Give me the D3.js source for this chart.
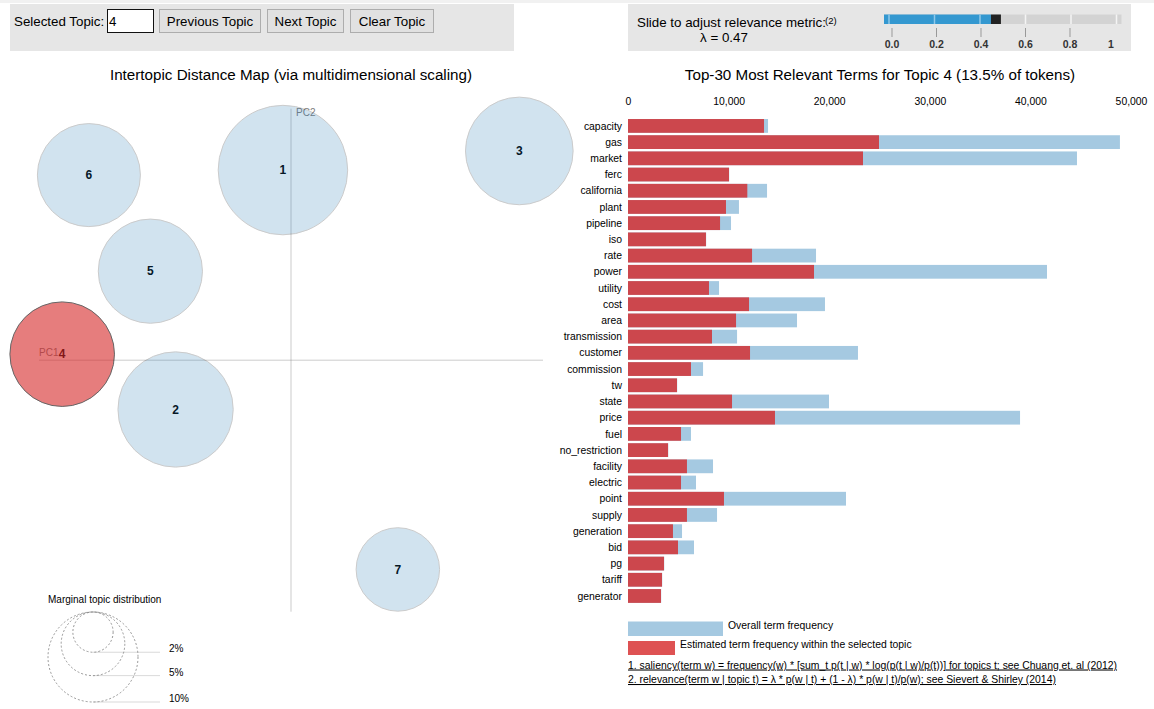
<!DOCTYPE html>
<html><head><meta charset="utf-8">
<script src="https://cdn.jsdelivr.net/npm/d3@7"></script>
<style>
body{margin:0;background:#fff;}
svg{font-family:"Liberation Sans",Arial,sans-serif;display:block}
</style></head><body>
<svg id="c" width="1154" height="709"></svg>
<script>
// ---- data ----
const topicIds = [1, 2, 3, 4, 5, 6, 7];
const topicPC1 = [-0.016, -0.229, 0.453, -0.454, -0.279, -0.401, 0.212];
const topicPC2 = [0.378, -0.098, 0.416, 0.012, 0.177, 0.368, -0.416];
const topicPct = [20.7, 16.4, 14.3, 13.5, 13.4, 13.1, 8.6];
const selectedTopic = 4;
const lambdaValue = 0.47;
const terms = ["capacity","gas","market","ferc","california","plant","pipeline","iso","rate","power","utility","cost","area","transmission","customer","commission","tw","state","price","fuel","no_restriction","facility","electric","point","supply","generation","bid","pg","tariff","generator"];
const topicFreq = [13520,24950,23360,10040,11860,9740,9150,7750,12330,18490,8050,12030,10740,8350,12130,6260,4870,10340,14610,5270,3980,5860,5270,9540,5860,4470,4970,3580,3380,3280];
const totalFreq = [13920,48900,44630,10060,13820,11030,10240,7770,18690,41650,9050,19580,16800,10840,22860,7460,4890,19980,38970,6260,4000,8450,6760,21670,8850,5370,6560,3600,3400,3300];
const xTickValues = [0, 10000, 20000, 30000, 40000, 50000];
const lambdaTicks = [0, 0.2, 0.4, 0.6, 0.8, 1];
const legendPcts = [2, 5, 10];

const svg = d3.select("#c");
const FONT13 = "13.33px";

// ---- header ----
svg.append("rect").attr("x",0).attr("y",0).attr("width",1154).attr("height",3).attr("fill","#f1f1f1");
svg.append("rect").attr("x",10).attr("y",4).attr("width",504).attr("height",47).attr("fill","#e6e6e6");
svg.append("rect").attr("x",628).attr("y",4).attr("width",503).attr("height",47).attr("fill","#e6e6e6");

svg.append("text").attr("x",14).attr("y",26).attr("font-size",FONT13).attr("fill","#000").text("Selected Topic:");
svg.append("rect").attr("x",107.5).attr("y",9.5).attr("width",46).attr("height",23).attr("fill","#fff").attr("stroke","#111");
svg.append("text").attr("x",109).attr("y",26).attr("font-size",FONT13).text(String(selectedTopic));
const buttons = [["Previous Topic",159,261],["Next Topic",267,344],["Clear Topic",350,434]];
buttons.forEach(b=>{
  svg.append("rect").attr("x",b[1]+0.5).attr("y",9.5).attr("width",b[2]-b[1]-1).attr("height",23)
    .attr("fill","#e1e1e1").attr("stroke","#adadad");
  svg.append("text").attr("x",(b[1]+b[2])/2).attr("y",26).attr("text-anchor","middle")
    .attr("font-size",FONT13).attr("fill","#000").text(b[0]);
});

svg.append("text").attr("x",637).attr("y",27).attr("font-size",FONT13).text("Slide to adjust relevance metric:");
svg.append("text").attr("x",825).attr("y",24).attr("font-size","9.5px").text("(2)");
svg.append("text").attr("x",724).attr("y",42).attr("text-anchor","middle").attr("font-size",FONT13).text("\u03bb = " + lambdaValue);

const sx = d3.scaleLinear().domain([0,1]).range([889,1116.5]);
svg.append("rect").attr("x",884).attr("y",14.5).attr("width",237.5).attr("height",9.5).attr("fill","#d3d3d3");
svg.append("rect").attr("x",884).attr("y",14.5).attr("width",sx(lambdaValue)-5-884).attr("height",9.5).attr("fill","#3498d0");
svg.selectAll(".sltick").data(lambdaTicks).enter().append("line")
  .attr("x1",d=>sx(d)).attr("x2",d=>sx(d)).attr("y1",14.5).attr("y2",24)
  .attr("stroke",d=>d<lambdaValue?"#8fc8ea":"#f4f4f4").attr("stroke-width",1.5);
svg.append("rect").attr("x",sx(lambdaValue)-5).attr("y",14.5).attr("width",10).attr("height",9.5).attr("fill","#222");
const ax = d3.scaleLinear().domain([0,1]).range([892,1114.5]);
svg.selectAll(".latick").data(lambdaTicks.filter(d=>d<1)).enter().append("line")
  .attr("x1",d=>ax(d)).attr("x2",d=>ax(d)).attr("y1",28).attr("y2",37).attr("stroke","#999");
svg.selectAll(".lalab").data(lambdaTicks).enter().append("text")
  .attr("x",d=>d===1?ax(d)-3.5:ax(d)).attr("y",48).attr("text-anchor","middle").attr("font-size","10.5px")
  .attr("font-weight","bold").attr("fill","#333").text(d=>d===1?"1":d3.format(".1f")(d));

// ---- titles ----
svg.append("text").attr("x",291).attr("y",80).attr("text-anchor","middle").attr("font-size","15.2px")
  .text("Intertopic Distance Map (via multidimensional scaling)");
svg.append("text").attr("x",880).attr("y",80).attr("text-anchor","middle").attr("font-size","15.2px")
  .text("Top-30 Most Relevant Terms for Topic " + selectedTopic + " (" + topicPct[selectedTopic-1] + "% of tokens)");

// ---- MDS plot ----
const mx = d3.scaleLinear().domain([-0.5,0.5]).range([39,543]);
const my = d3.scaleLinear().domain([-0.5,0.5]).range([611.7,108.7]);
const rr = d3.scaleSqrt().domain([0,10]).range([0,45]);
const mds = svg.append("g");
mds.append("line").attr("x1",mx(-0.5)).attr("x2",mx(0.5)).attr("y1",my(0)).attr("y2",my(0)).attr("stroke","gray").attr("stroke-opacity",0.4);
mds.append("text").attr("x",mx(-0.5)).attr("y",my(0)-4).attr("font-size","10px").attr("fill","gray").text("PC1");
mds.append("line").attr("x1",mx(0)).attr("x2",mx(0)).attr("y1",my(0.5)).attr("y2",my(-0.5)).attr("stroke","gray").attr("stroke-opacity",0.4);
mds.append("text").attr("x",mx(0)+5).attr("y",my(0.5)+7).attr("font-size","10px").attr("fill","gray").text("PC2");

const topics = topicIds.map((id,i)=>({id, x:topicPC1[i], y:topicPC2[i], pct:topicPct[i]}));
mds.selectAll(".tl").data(topics).enter().append("text")
  .attr("x",d=>mx(d.x)).attr("y",d=>my(d.y)).attr("dy","0.36em").attr("text-anchor","middle")
  .attr("font-size","12px").attr("font-weight","bold").attr("fill","#000").text(d=>d.id);
mds.selectAll(".dot").data(topics).enter().append("circle")
  .attr("cx",d=>mx(d.x)).attr("cy",d=>my(d.y)).attr("r",d=>rr(d.pct))
  .attr("fill",d=>d.id===selectedTopic?"#d62728":"#1f77b4")
  .attr("stroke","black")
  .attr("opacity",d=>d.id===selectedTopic?0.6:0.2);

// marginal legend
svg.append("text").attr("x",48).attr("y",603).attr("font-size","10px").text("Marginal topic distribution");
const lcx = 93, ltop = 612;
legendPcts.forEach(p=>{
  const r = rr(p);
  svg.append("circle").attr("cx",lcx).attr("cy",ltop+r).attr("r",r).attr("fill","none")
    .attr("stroke","gray").attr("stroke-dasharray","2 2").attr("stroke-opacity",0.8);
  svg.append("line").attr("x1",lcx).attr("x2",lcx+67).attr("y1",ltop+2*r).attr("y2",ltop+2*r)
    .attr("stroke","gray").attr("stroke-opacity",0.3);
  svg.append("text").attr("x",169).attr("y",ltop+2*r).attr("font-size","10px").text(p+"%");
});

// ---- bar chart ----
const bx = d3.scaleLinear().domain([0,50000]).range([628,1131]);
const by = d3.scaleBand().domain(terms).range([117.4,604.5]).paddingInner(0.15).paddingOuter(0.1);
const bars = svg.append("g");
const rows = terms.map((t,i)=>({t, own:topicFreq[i], tot:totalFreq[i]}));
bars.selectAll(".tot").data(rows).enter().append("rect")
  .attr("x",bx(0)).attr("y",d=>by(d.t)).attr("width",d=>bx(d.tot)-bx(0)).attr("height",by.bandwidth())
  .attr("fill","#1f77b4").attr("opacity",0.4);
bars.selectAll(".own").data(rows).enter().append("rect")
  .attr("x",bx(0)).attr("y",d=>by(d.t)).attr("width",d=>bx(d.own)-bx(0)).attr("height",by.bandwidth())
  .attr("fill","#d62728").attr("opacity",0.8);
bars.selectAll(".term").data(rows).enter().append("text")
  .attr("x",622).attr("y",d=>by(d.t)+by.bandwidth()/2).attr("dy","0.35em").attr("text-anchor","end")
  .attr("font-size","10.4px").attr("fill","#000").text(d=>d.t);

const xAxis = d3.axisTop(bx).tickValues(xTickValues).tickSize(0).tickPadding(0).tickFormat(d3.format(","));
const xg = svg.append("g").attr("transform","translate(0,105)").call(xAxis);
xg.select(".domain").remove();
xg.selectAll("text").attr("font-size","10.4px").attr("font-family","Liberation Sans, Arial, sans-serif").attr("fill","#000");

// bar legend
svg.append("rect").attr("x",628).attr("y",621.5).attr("width",95).attr("height",14.5).attr("fill","#1f77b4").attr("opacity",0.4);
svg.append("text").attr("x",728).attr("y",629).attr("font-size","10.4px").text("Overall term frequency");
svg.append("rect").attr("x",628).attr("y",641).attr("width",47).attr("height",14).attr("fill","#d62728").attr("opacity",0.8);
svg.append("text").attr("x",680).attr("y",648).attr("font-size","10.4px").text("Estimated term frequency within the selected topic");
svg.append("text").attr("x",628).attr("y",668.5).attr("font-size","10.4px").attr("text-decoration","underline")
  .text("1. saliency(term w) = frequency(w) * [sum_t p(t | w) * log(p(t | w)/p(t))] for topics t; see Chuang et. al (2012)");
svg.append("text").attr("x",628).attr("y",683).attr("font-size","10.4px").attr("text-decoration","underline")
  .text("2. relevance(term w | topic t) = \u03bb * p(w | t) + (1 - \u03bb) * p(w | t)/p(w); see Sievert & Shirley (2014)");
</script>
</body></html>
